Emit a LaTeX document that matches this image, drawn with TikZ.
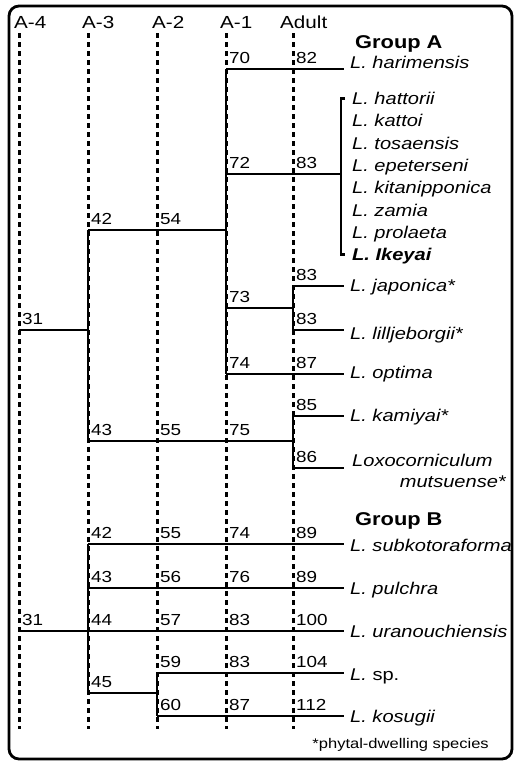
\documentclass[tikz,border=0pt]{standalone}
\usepackage{fontspec}
\setmainfont{Liberation Sans}[FakeStretch=1.18]
\begin{document}
\begin{tikzpicture}[x=1pt,y=-1pt,
        branch/.style={line width=2.7pt},
        stage/.style={line width=3pt,dash pattern=on 5pt off 4pt},
        hdr/.style={anchor=base west,inner sep=0pt,font=\fontsize{17.5}{19}\selectfont},
        num/.style={anchor=base west,inner sep=0pt,font=\fontsize{16}{18}\selectfont},
        sp/.style={anchor=base west,inner sep=0pt,font=\fontsize{17}{19}\selectfont\itshape},
        grp/.style={anchor=base west,inner sep=0pt,font=\fontsize{18.5}{20}\selectfont\bfseries}]
    \useasboundingbox (0,0) rectangle (518,763);
    \draw[line width=2.8pt, rounded corners=10pt] (9,6) rectangle (512,759);

    % stages
    \foreach \n/\x/\lx/\t in {A4/19/14/A-4, A3/88/82/A-3, A2/157/152/A-2, A1/226/220/A-1, Ad/293/280/Adult} {
        \node[hdr] (h\n) at (\lx,28) {\t};
        \coordinate (top\n) at (\x,33);
        \coordinate (bot\n) at (\x,729);
        \draw[stage] (top\n) -- (bot\n);
    }

    % Group A
    \node[grp] (grpA) at (355,48) {Group A};
    \coordinate (a31) at (19,330);
    \coordinate (a3top) at (88,230);
    \coordinate (a3mid) at (88,330);
    \coordinate (a3bot) at (88,441);
    \coordinate (a1top) at (226,69);
    \coordinate (a1j) at (226,230);
    \coordinate (a1c) at (226,174);
    \coordinate (a1d) at (226,308);
    \coordinate (a1bot) at (226,374);
    \coordinate (adJ) at (293,286);
    \coordinate (adJm) at (293,308);
    \coordinate (adL) at (293,330);
    \coordinate (adK) at (293,416);
    \coordinate (adKm) at (293,441);
    \coordinate (adX) at (293,468);
    \coordinate (brT) at (341,98.5);
    \coordinate (brM) at (341,174);
    \coordinate (brB) at (341,254.6);
    \foreach \e/\y in {Har/69, Jap/286, Lil/330, Opt/374, Kam/416, Lox/468}
        \coordinate (e\e) at (344,\y);

    \draw[branch] (a31) -- (a3mid);
    \draw[branch] (a3top) -- (a3bot);
    \draw[branch] (a3top) -- (a1j);
    \draw[branch] (a1top) -- (a1bot);
    \draw[branch] (a1top) -- (eHar);
    \draw[branch] (a1c) -- (brM);
    \draw[branch] ([xshift=4pt]brT) -- (brT) -- (brB) -- ([xshift=4pt]brB);
    \draw[branch] (a1d) -- (adJm);
    \draw[branch] (adJ) -- (adL);
    \draw[branch] (adJ) -- (eJap);
    \draw[branch] (adL) -- (eLil);
    \draw[branch] (a1bot) -- (eOpt);
    \draw[branch] (a3bot) -- (adKm);
    \draw[branch] (adK) -- (adX);
    \draw[branch] (adK) -- (eKam);
    \draw[branch] (adX) -- (eLox);

    \node[sp] (sHar) at (350,68) {L. harimensis};
    \foreach \s/\t [count=\k from 0] in {Hat/L. hattorii, Kat/L. kattoi, Tos/L. tosaensis, Epe/L. epeterseni,
            Kit/L. kitanipponica, Zam/L. zamia, Pro/L. prolaeta, Ike/{\bfseries L. Ikeyai}}
        \node[sp] (s\s) at (352,104.5+22.3*\k) {\t};
    \node[sp] (sJap) at (350,291) {L. japonica*};
    \node[sp] (sLil) at (350,339) {L. lilljeborgii*};
    \node[sp] (sOpt) at (350,378) {L. optima};
    \node[sp] (sKam) at (350,421) {L. kamiyai*};
    \node[sp] (sLox) at (352,466) {Loxocorniculum};
    \node[sp,anchor=base east] (sMut) at (506,487) {mutsuense*};

    % Group B
    \node[grp] (grpB) at (355,525) {Group B};
    \coordinate (b31) at (19,631);
    \coordinate (b3top) at (88,544);
    \coordinate (b3p) at (88,588);
    \coordinate (b3bot) at (88,693);
    \coordinate (b2top) at (157,673);
    \coordinate (b2m) at (157,693);
    \coordinate (b2bot) at (157,716);
    \foreach \e/\y in {Sub/544, Pul/588, Ura/631, Sp/673, Kos/716}
        \coordinate (e\e) at (344,\y);

    \draw[branch] (b31) -- (eUra);
    \draw[branch] (b3top) -- (b3bot);
    \draw[branch] (b3top) -- (eSub);
    \draw[branch] (b3p) -- (ePul);
    \draw[branch] (b3bot) -- (b2m);
    \draw[branch] (b2top) -- (b2bot);
    \draw[branch] (b2top) -- (eSp);
    \draw[branch] (b2bot) -- (eKos);

    \node[sp] (sSub) at (350,551) {L. subkotoraforma};
    \node[sp] (sPul) at (350,594) {L. pulchra};
    \node[sp] (sUra) at (350,637) {L. uranouchiensis};
    \node[sp] (sSp) at (350,680) {L. {\upshape sp.}};
    \node[sp] (sKos) at (350,722) {L. kosugii};

    % numbers
    \foreach \x/\y/\v [count=\k] in {226/69/70, 293/69/82, 226/174/72, 293/174/83, 88/230/42, 157/230/54,
            19/330/31, 293/286/83, 226/308/73, 293/330/83, 226/374/74, 293/374/87, 293/416/85,
            88/441/43, 157/441/55, 226/441/75, 293/468/86,
            88/544/42, 157/544/55, 226/544/74, 293/544/89,
            88/588/43, 157/588/56, 226/588/76, 293/588/89,
            19/631/31, 88/631/44, 157/631/57, 226/631/83, 293/631/100,
            157/673/59, 226/673/83, 293/673/104, 88/693/45,
            157/716/60, 226/716/87, 293/716/112}
        \node[num] (v\k) at (\x+3,\y-6) {\v};

    \node[anchor=base east,inner sep=0pt,font=\fontsize{14}{16}\selectfont] (note) at (489,748) {*phytal-dwelling species};
\end{tikzpicture}
\end{document}
